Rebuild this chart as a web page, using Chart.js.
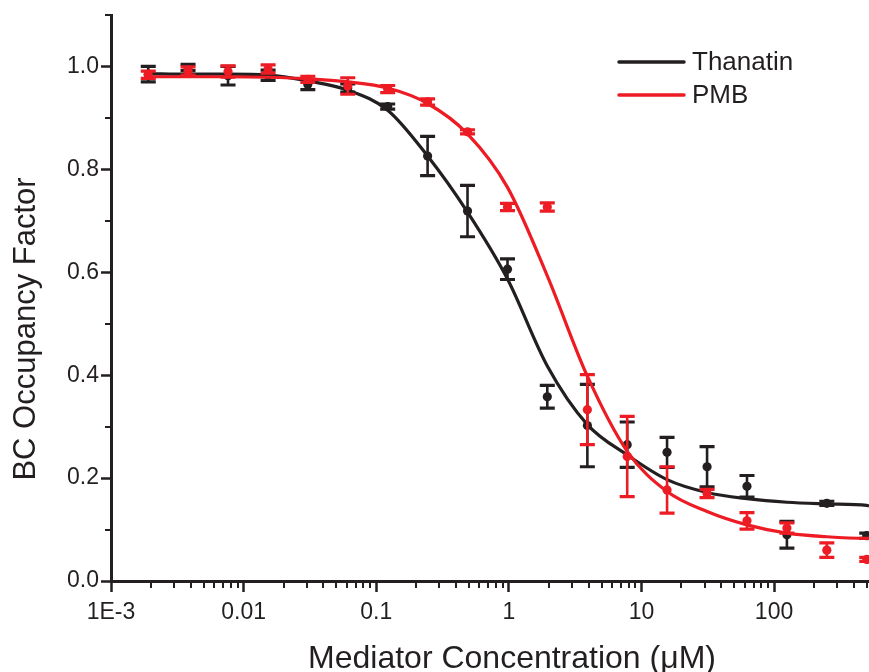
<!DOCTYPE html>
<html>
<head>
<meta charset="utf-8">
<script src="https://cdn.jsdelivr.net/npm/chart.js@4.4.1/dist/chart.umd.min.js"></script>
<style>
  html, body { margin: 0; padding: 0; background: #ffffff; }
  #wrap { width: 869px; height: 672px; position: relative; }
</style>
</head>
<body>
<div id="wrap"><canvas id="c" width="869" height="672"></canvas></div>
<script>
// ---- data ----
const concentrations = [0.00191, 0.00381, 0.00763, 0.0153, 0.0305, 0.061, 0.122, 0.244, 0.488, 0.977, 1.95, 3.91, 7.81, 15.6, 31.25, 62.5, 125, 250, 500];
const thanatinValues = [0.985, 0.998, 0.982, 0.983, 0.965, 0.958, 0.922, 0.826, 0.719, 0.606, 0.358, 0.302, 0.265, 0.250, 0.222, 0.184, 0.090, 0.151, 0.088];
const thanatinErrors = [0.015, 0.006, 0.018, 0.010, 0.010, 0.008, 0.005, 0.038, 0.050, 0.020, 0.022, 0.080, 0.044, 0.029, 0.039, 0.021, 0.026, 0.004, 0.005];
const pmbValues      = [0.984, 0.991, 0.990, 0.995, 0.975, 0.962, 0.956, 0.931, 0.873, 0.727, 0.727, 0.333, 0.242, 0.177, 0.170, 0.117, 0.103, 0.060, 0.042];
const pmbErrors      = [0.007, 0.008, 0.011, 0.008, 0.006, 0.016, 0.007, 0.006, 0.004, 0.007, 0.008, 0.068, 0.078, 0.045, 0.008, 0.016, 0.010, 0.014, 0.004];
// fitted curves
const fitConcentrations = [0.00191, 0.00381, 0.00763, 0.0153, 0.0305, 0.061, 0.122, 0.244, 0.488, 0.977, 1.95, 3.91, 7.81, 15.6, 31.25, 62.5, 125, 250, 500, 520];
const thanatinFit = [0.986, 0.985, 0.985, 0.983, 0.972, 0.954, 0.915, 0.826, 0.717, 0.587, 0.418, 0.304, 0.245, 0.197, 0.172, 0.160, 0.153, 0.150, 0.147, 0.146];
const pmbFit      = [0.980, 0.980, 0.980, 0.979, 0.976, 0.970, 0.958, 0.928, 0.869, 0.765, 0.593, 0.398, 0.252, 0.174, 0.135, 0.109, 0.093, 0.086, 0.083, 0.083];
const seriesNames = ['Thanatin', 'PMB'];
const xTickLabels = {'-3': '1E-3', '-2': '0.01', '-1': '0.1', '0': '1', '1': '10', '2': '100'};
const yTickLabels = ['0.0', '0.2', '0.4', '0.6', '0.8', '1.0'];
const xTitle = 'Mediator Concentration (\u03BCM)';
const yTitle = 'BC Occupancy Factor';

// ---- styles ----
const INK = '#231f20';
const BLACK = '#231f20';
const RED = '#ed1c24';
const FONT = '"Liberation Sans", Arial, Helvetica, sans-serif';

const pts = (xs, ys) => xs.map((x, i) => ({x: x, y: ys[i]}));
const isMajorX = v => Math.abs(Math.log10(v) - Math.round(Math.log10(v))) < 1e-6 && Math.round(Math.log10(v)) <= 2;
const isMajorY = v => { const k = Math.round(v * 10); return Math.abs(v * 10 - k) < 1e-6 && k % 2 === 0 && k <= 10; };

const errorBarPlugin = {
  id: 'errorBars',
  beforeDatasetDraw(chart, args) {
    const ds = chart.data.datasets[args.index];
    if (!ds._err) return;
    const xs = chart.scales.x, ys = chart.scales.y, ctx = chart.ctx;
    ctx.save();
    ctx.strokeStyle = ds._color;
    ctx.lineCap = 'butt';
    concentrations.forEach((c, i) => {
      const v = ds._vals[i], e = ds._err[i];
      const px = xs.getPixelForValue(c);
      const pt = ys.getPixelForValue(v + e), pb = ys.getPixelForValue(v - e);
      ctx.lineWidth = 2.6;
      ctx.beginPath(); ctx.moveTo(px, pt); ctx.lineTo(px, pb); ctx.stroke();
      ctx.lineWidth = 3.2;
      ctx.beginPath();
      ctx.moveTo(px - 7.5, pt); ctx.lineTo(px + 7.5, pt);
      ctx.moveTo(px - 7.5, pb); ctx.lineTo(px + 7.5, pb);
      ctx.stroke();
    });
    ctx.restore();
  }
};

const decorPlugin = {
  id: 'decor',
  afterDraw(chart) {
    const ctx = chart.ctx, xs = chart.scales.x, ys = chart.scales.y, ca = chart.chartArea;
    ctx.save();
    // minor ticks
    ctx.strokeStyle = INK; ctx.lineWidth = 2;
    for (let k = -3; k <= 2; k++) {
      for (let m = 2; m <= 9; m++) {
        const v = m * Math.pow(10, k);
        if (v > xs.max) continue;
        const px = Math.round(xs.getPixelForValue(v));
        ctx.beginPath(); ctx.moveTo(px, ca.bottom); ctx.lineTo(px, ca.bottom + 7); ctx.stroke();
      }
    }
    for (let k = 1; k <= 11; k += 2) {
      const py = Math.round(ys.getPixelForValue(k / 10));
      ctx.beginPath(); ctx.moveTo(ca.left, py); ctx.lineTo(ca.left - 6, py); ctx.stroke();
    }
    // axis titles
    ctx.fillStyle = INK;
    ctx.textAlign = 'center'; ctx.textBaseline = 'middle';
    ctx.font = '32px ' + FONT;
    ctx.fillText(xTitle, 512, 659);
    ctx.font = '31px ' + FONT;
    ctx.translate(26, 329); ctx.rotate(-Math.PI / 2);
    ctx.fillText(yTitle, 0, 0);
    ctx.setTransform(1, 0, 0, 1, 0, 0);
    // legend
    const rows = [{name: seriesNames[0], color: BLACK, y: 62}, {name: seriesNames[1], color: RED, y: 95}];
    ctx.font = '26px ' + FONT; ctx.textAlign = 'left';
    rows.forEach(r => {
      ctx.strokeStyle = r.color; ctx.lineWidth = 3.5; ctx.lineCap = 'round';
      ctx.beginPath(); ctx.moveTo(619, r.y); ctx.lineTo(684, r.y); ctx.stroke();
      ctx.fillStyle = INK;
      ctx.fillText(r.name, 692, r.y + 1);
    });
    ctx.restore();
  }
};

new Chart(document.getElementById('c'), {
  type: 'scatter',
  data: {
    datasets: [
      { label: seriesNames[1], data: pts(concentrations, pmbValues), order: 0, showLine: false,
        pointRadius: 4.6, pointBackgroundColor: RED, pointBorderWidth: 0, _err: pmbErrors, _vals: pmbValues, _color: RED },
      { label: seriesNames[1] + ' fit', data: pts(fitConcentrations, pmbFit), order: 1, showLine: true,
        borderColor: RED, borderWidth: 3.2, pointRadius: 0, cubicInterpolationMode: 'monotone' },
      { label: seriesNames[0], data: pts(concentrations, thanatinValues), order: 2, showLine: false,
        pointRadius: 4.6, pointBackgroundColor: BLACK, pointBorderWidth: 0, _err: thanatinErrors, _vals: thanatinValues, _color: BLACK },
      { label: seriesNames[0] + ' fit', data: pts(fitConcentrations, thanatinFit), order: 3, showLine: true,
        borderColor: BLACK, borderWidth: 3.2, pointRadius: 0, cubicInterpolationMode: 'monotone' }
    ]
  },
  options: {
    responsive: false,
    devicePixelRatio: 1,
    animation: false,
    clip: false,
    layout: { autoPadding: false, padding: { top: 15, right: 0, left: 0, bottom: 0 } },
    plugins: { legend: { display: false }, tooltip: { enabled: false } },
    scales: {
      x: {
        type: 'logarithmic', min: 0.001, max: 520,
        afterFit: s => { s.height = 91; s.paddingLeft = 0; s.paddingRight = 0; },
        border: { display: true, color: INK, width: 3 },
        grid: { drawOnChartArea: false, drawTicks: true, tickLength: 11,
                tickColor: c => (c.tick && isMajorX(c.tick.value)) ? INK : 'rgba(0,0,0,0)', tickWidth: 2.5 },
        ticks: { autoSkip: false, maxRotation: 0, minRotation: 0, padding: 7, color: INK,
                 font: { family: FONT, size: 23 },
                 callback: v => isMajorX(v) ? xTickLabels[String(Math.round(Math.log10(v)))] : '' }
      },
      y: {
        type: 'linear', min: 0, max: 1.1,
        afterFit: s => { s.width = 111; s.paddingTop = 0; s.paddingBottom = 0; },
        border: { display: true, color: INK, width: 3 },
        grid: { drawOnChartArea: false, drawTicks: true, tickLength: 10,
                tickColor: c => (c.tick && isMajorY(c.tick.value)) ? INK : 'rgba(0,0,0,0)', tickWidth: 2.5 },
        ticks: { stepSize: 0.1, autoSkip: false, padding: 2, color: INK,
                 font: { family: FONT, size: 23 },
                 callback: v => isMajorY(v) ? yTickLabels[Math.round(v * 5)] : '' }
      }
    }
  },
  plugins: [errorBarPlugin, decorPlugin]
});
</script>
</body>
</html>
